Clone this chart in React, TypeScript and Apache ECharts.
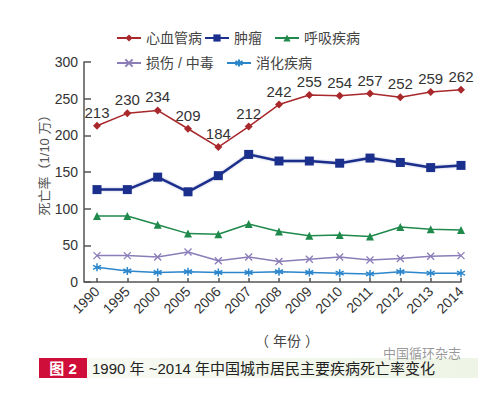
import React, { useEffect, useRef } from "react";
import * as echarts from "echarts";

const years = ["1990", "1995", "2000", "2005", "2006", "2007", "2008", "2009", "2010", "2011", "2012", "2013", "2014"];
const cardio = [213, 230, 234, 209, 184, 212, 242, 255, 254, 257, 252, 259, 262];
const tumor = [126, 126, 143, 123, 145, 174, 165, 165, 162, 169, 163, 156, 159];
const resp = [90, 90, 78, 66, 65, 79, 69, 63, 64, 62, 75, 72, 71];
const injury = [36, 36, 34, 41, 29, 34, 28, 31, 34, 30, 32, 35, 36];
const digest = [20, 15, 13, 14, 13, 13, 14, 13, 12, 11, 14, 12, 12];

const seriesNames = ["心血管病", "肿瘤", "呼吸疾病", "损伤 / 中毒", "消化疾病"];
const yAxisTitle = "死亡率（1/10 万）";
const xAxisTitle = "（ 年份 ）";
const captionTag = "图 2";
const captionText = "1990 年 ~2014 年中国城市居民主要疾病死亡率变化";
const watermark = "中国循环杂志";

const FONT = "'Liberation Sans', Arial, 'Noto Sans CJK SC', sans-serif";

export default function App() {
  const ref = useRef<HTMLDivElement>(null);
  useEffect(() => {
    if (!ref.current) return;
    const chart = echarts.init(ref.current, undefined, { renderer: "svg" });
    const xSym = "path://M0,0L10,10M10,0L0,10";
    const starSym = "path://M5,0L5,10M0,2.5L10,7.5M0,7.5L10,2.5";
    const legendPos = [
      { left: 116, top: 31 },
      { left: 204, top: 31 },
      { left: 274, top: 31 },
      { left: 116, top: 56 },
      { left: 226, top: 56 },
    ];
    const legends = seriesNames.map((n, i) => ({
      data: [n],
      left: legendPos[i].left,
      top: legendPos[i].top,
      padding: 0,
      itemWidth: 24,
      itemHeight: 9,
      textStyle: { fontSize: 14, color: "#444", fontFamily: FONT },
    }));
    chart.setOption({
      animation: false,
      backgroundColor: "#ffffff",
      textStyle: { fontFamily: FONT },
      grid: { left: 97, right: 39, top: 62, bottom: 115, containLabel: false },
      legend: legends,
      xAxis: {
        type: "category",
        data: years,
        boundaryGap: false,
        axisLine: { lineStyle: { color: "#555", width: 1.5 } },
        axisTick: { inside: true, length: 4, lineStyle: { color: "#555", width: 1.5 } },
        axisLabel: { rotate: 45, fontSize: 14, color: "#333", margin: 7, interval: 0, fontFamily: FONT },
      },
      yAxis: {
        type: "value",
        min: 0,
        max: 300,
        interval: 50,
        offset: 13,
        axisLine: { show: true, lineStyle: { color: "#555", width: 1.5 } },
        axisTick: { show: true, inside: true, length: 7, lineStyle: { color: "#555", width: 1.5 } },
        axisLabel: { fontSize: 14, color: "#333", margin: 6, fontFamily: FONT },
        splitLine: { show: false },
      },
      graphic: [
        { type: "line", shape: { x1: 84, y1: 282, x2: 97, y2: 282 }, style: { stroke: "#555", lineWidth: 1.5 } },
        {
          type: "text",
          x: 44,
          y: 162,
          rotation: Math.PI / 2,
          style: { text: yAxisTitle, fontSize: 13, fill: "#555", textAlign: "center", textVerticalAlign: "middle", fontFamily: FONT },
        },
        {
          type: "text",
          x: 287,
          y: 341,
          style: { text: xAxisTitle, fontSize: 14, fill: "#444", textAlign: "center", textVerticalAlign: "middle", fontFamily: FONT },
        },
        {
          type: "rect",
          shape: { x: 87, y: 358, width: 391, height: 20 },
          style: {
            fill: new echarts.graphic.LinearGradient(0, 0, 1, 0, [
              { offset: 0, color: "#f7f9f3" },
              { offset: 1, color: "#eef5e6" },
            ]),
          },
        },
        { type: "rect", shape: { x: 39, y: 358, width: 48, height: 20 }, style: { fill: "#cf0f3a" } },
        {
          type: "text",
          x: 63,
          y: 368,
          style: { text: captionTag, fontSize: 15, fontWeight: "bold", fill: "#ffffff", textAlign: "center", textVerticalAlign: "middle", fontFamily: FONT },
        },
        {
          type: "text",
          x: 92,
          y: 368,
          style: { text: captionText, fontSize: 15, fill: "#222", textAlign: "left", textVerticalAlign: "middle", fontFamily: FONT },
        },
        {
          type: "text",
          x: 383,
          y: 353,
          style: { text: watermark, fontSize: 13, fill: "rgba(120,120,120,0.75)", textAlign: "left", textVerticalAlign: "middle", fontFamily: FONT },
        },
      ],
      series: [
        {
          name: seriesNames[0],
          type: "line",
          data: cardio,
          symbol: "diamond",
          symbolSize: 8,
          lineStyle: { color: "#a8282c", width: 1.5 },
          itemStyle: { color: "#a8282c" },
          label: { show: true, position: "top", distance: 2, fontSize: 15, color: "#333", fontFamily: FONT },
        },
        {
          name: seriesNames[1],
          type: "line",
          data: tumor,
          symbol: "rect",
          symbolSize: 9,
          lineStyle: { color: "#1b2f8c", width: 2.5, shadowColor: "rgba(40,60,160,0.35)", shadowBlur: 2 },
          itemStyle: { color: "#1b2f8c" },
        },
        {
          name: seriesNames[2],
          type: "line",
          data: resp,
          symbol: "triangle",
          symbolSize: 8,
          lineStyle: { color: "#1f8a4c", width: 1.5 },
          itemStyle: { color: "#1f8a4c" },
        },
        {
          name: seriesNames[3],
          type: "line",
          data: injury,
          symbol: xSym,
          symbolSize: 7,
          lineStyle: { color: "#8a7db8", width: 1.5 },
          itemStyle: { color: "#8a7db8", borderColor: "#8a7db8", borderWidth: 1.3 },
        },
        {
          name: seriesNames[4],
          type: "line",
          data: digest,
          symbol: starSym,
          symbolSize: 8,
          lineStyle: { color: "#2b86cc", width: 1.5 },
          itemStyle: { color: "#2b86cc", borderColor: "#2b86cc", borderWidth: 1.5 },
        },
      ],
    });
    return () => chart.dispose();
  }, []);
  return (
    <div
      ref={ref}
      style={{ position: "fixed", left: 0, top: 0, width: 500, height: 397, background: "#fff" }}
    />
  );
}
